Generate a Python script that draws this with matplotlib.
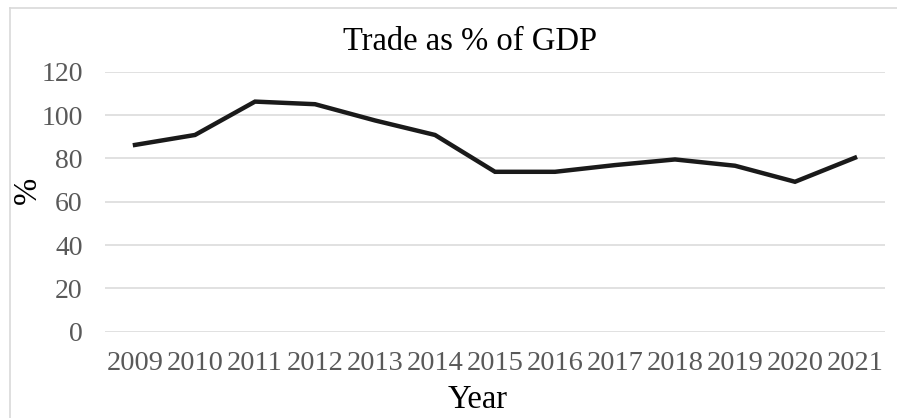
import matplotlib
matplotlib.use("Agg")
import matplotlib.pyplot as plt
from matplotlib.lines import Line2D

years = ["2009", "2010", "2011", "2012", "2013", "2014", "2015",
         "2016", "2017", "2018", "2019", "2020", "2021"]
trade_pct = [86.2, 90.8, 106.2, 105.0, 97.5, 90.8, 73.8,
             73.8, 76.9, 79.5, 76.6, 69.2, 80.3]
yticks = [0, 20, 40, 60, 80, 100, 120]

plt.rcParams['font.family'] = ['Liberation Serif', 'DejaVu Serif']

W, H = 897, 418
fig = plt.figure(figsize=(W / 100, H / 100), dpi=100)
ax = fig.add_axes([105 / W, (H - 331.7) / H, 780 / W, (331.7 - 71.7) / H])

x = list(range(len(years)))
ax.plot(x, trade_pct, color='#1a1a1a', lw=3.2, solid_joinstyle='miter', zorder=3)

ax.set_xlim(-0.5, len(years) - 0.5)
ax.set_ylim(0, 120)
ax.set_yticks(yticks)
ax.set_xticks(x)
ax.set_xticklabels(years)
ax.grid(axis='y', color='#d9d9d9', lw=1.1)
ax.set_axisbelow(True)
for s in ax.spines.values():
    s.set_visible(False)
ax.tick_params(length=0, labelsize=20.5, labelcolor='#595959')
ax.tick_params(axis='x', pad=14)
ax.tick_params(axis='y', pad=16, labelsize=20)

fig.text(470 / W, 1 - 42 / H, "Trade as % of GDP", ha='center', va='center',
         fontsize=23.5, color='#000000')
fig.text(478 / W, 1 - 400 / H, "Year", ha='center', va='center',
         fontsize=23.5, color='#000000')
fig.text(28 / W, 1 - 190 / H, "%", ha='center', va='center', rotation=90,
         fontsize=23.5, color='#000000')

# chart border
fig.add_artist(Line2D([10 / W, 10 / W], [0, 1 - 8 / H], transform=fig.transFigure,
                      color='#d9d9d9', lw=1.2))
fig.add_artist(Line2D([10 / W, 1], [1 - 8 / H, 1 - 8 / H], transform=fig.transFigure,
                      color='#d9d9d9', lw=1.2))

fig.savefig("out.png", dpi=100)
